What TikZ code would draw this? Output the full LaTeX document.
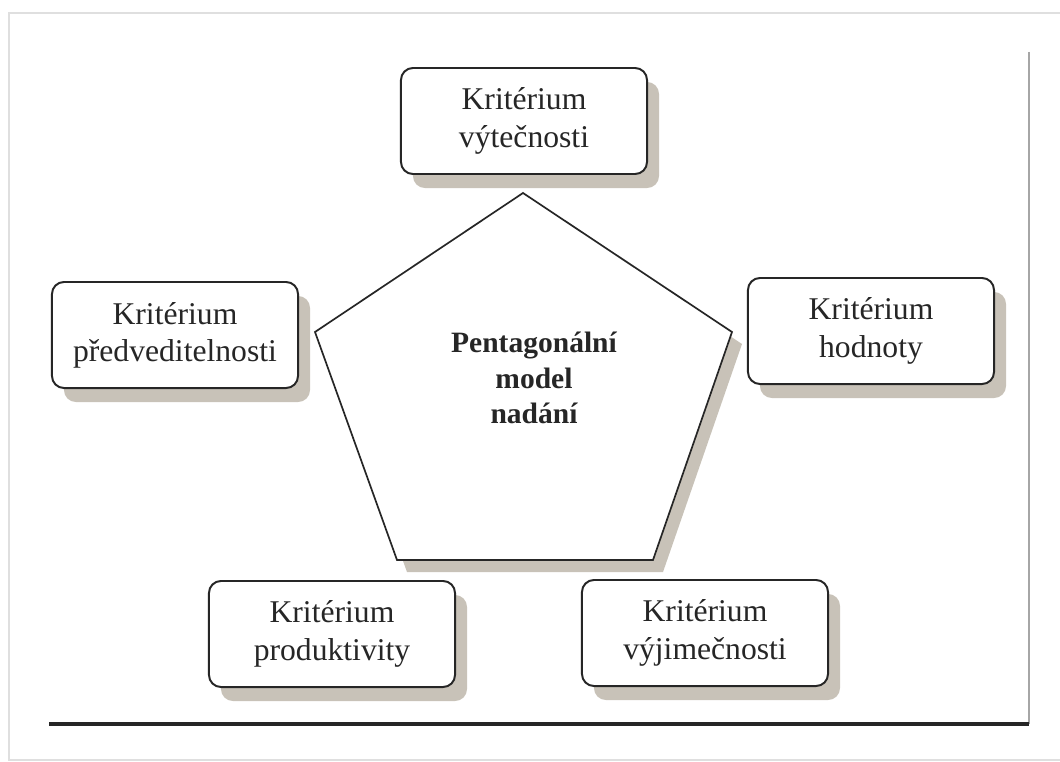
\documentclass[tikz,border=0pt]{standalone}
\usepackage{fontspec}
\setmainfont{Liberation Serif}
\usetikzlibrary{shadows}

\definecolor{shadowgray}{RGB}{200,194,184}

\begin{document}
\begin{tikzpicture}[x=0.025cm, y=-0.025cm,
    krit/.style={rectangle, rounded corners=0.3cm, draw=black!85, line width=1.4pt, fill=white,
      minimum width=6.15cm, minimum height=2.65cm, align=center, text=black!85,
      font=\fontsize{22.5}{26.5}\selectfont,
      drop shadow={shadow xshift=0.3cm, shadow yshift=-0.35cm, fill=shadowgray, opacity=1}}]
                    \fill[white] (0,0) rectangle (1060,762);
                    \useasboundingbox (0,0) rectangle (1060,762);
                    % frame of the scan
                    \draw[gray!25, line width=1pt] (1060,13) -- (9,13) -- (9,760) -- (1060,760);
                    % pentagon
                    \coordinate (T) at (523,193);
                    \coordinate (UR) at (732,332);
                    \coordinate (BR) at (653,560);
                    \coordinate (BL) at (397,560);
                    \coordinate (UL) at (315,332);
                    \draw[line width=1.2pt, draw=black!85, fill=white,
                      drop shadow={shadow xshift=0.25cm, shadow yshift=-0.3cm, fill=shadowgray, opacity=1}]
                      (T) -- (UR) -- (BR) -- (BL) -- (UL) -- cycle;
                    \node[align=center, text=black!85, font=\fontsize{21}{25}\selectfont\bfseries] (M) at (534,378) {Pentagonální\\model\\nadání};
                    % criteria
                    \node[krit] (V) at (524,121) {Kritérium\\výtečnosti};
                    \node[krit] (D) at (175,335) {Kritérium\\předveditelnosti};
                    \node[krit] (H) at (871,331) {Kritérium\\hodnoty};
                    \node[krit] (P) at (332,634) {Kritérium\\produktivity};
                    \node[krit] (J) at (705,633) {Kritérium\\výjimečnosti};
                    % rules
                    \coordinate (R1) at (1029,52);
                    \coordinate (R2) at (1029,724);
                    \coordinate (R3) at (49,724);
                    \draw[gray!70, line width=1.2pt] (R1) -- (R2);
                    \draw[black!85, line width=2.4pt] (R3) -- (R2);
                \end{tikzpicture}
\end{document}
